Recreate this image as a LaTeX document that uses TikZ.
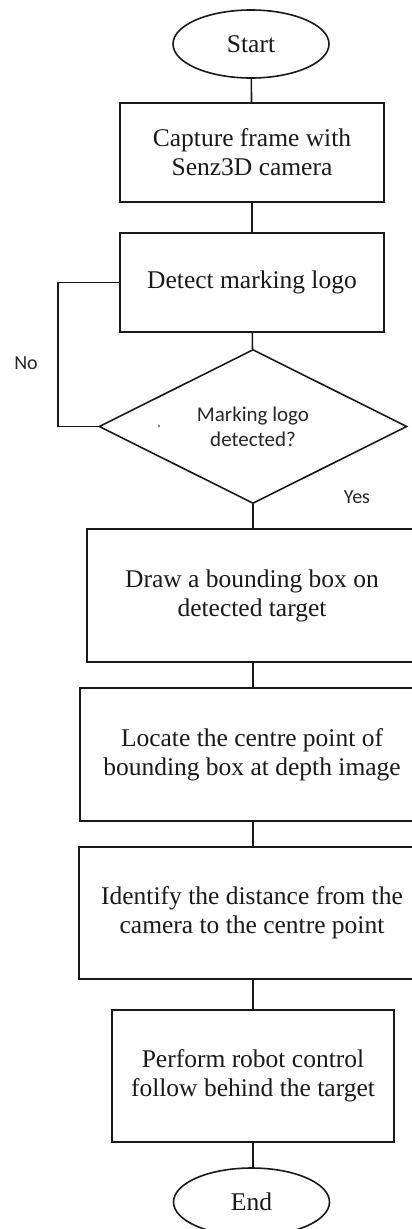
\documentclass[tikz,border=0pt]{standalone}
\usepackage{fontspec}
\setmainfont{Liberation Serif}
\newfontfamily\labelfont{Carlito}
\usetikzlibrary{shapes.geometric}

\tikzset{
  flowline/.style={draw=black!90, line width=1.6pt},
  stepbox/.style={rectangle, flowline, inner sep=0pt, align=center,
    font=\fontsize{25.5}{29}\selectfont, text=black!90},
  terminal/.style={ellipse, flowline, inner sep=0pt, minimum width=156pt,
    minimum height=68pt, font=\fontsize{25.5}{29}\selectfont, text=black!90},
  decision/.style={diamond, flowline, inner sep=0pt, aspect=2, align=center,
    minimum width=308pt, minimum height=154pt,
    font=\labelfont\fontsize{21}{25}\selectfont, text=black!85},
  branchlabel/.style={font=\labelfont\fontsize{20}{24}\selectfont, text=black!85}
}

\begin{document}
\begin{tikzpicture}[x=1pt, y=-1pt]
  \useasboundingbox (0,0) rectangle (412,1229);

  % process steps, top to bottom
  \node[terminal] (start) at (251,44) {Start};
  \node[stepbox, minimum width=264pt, minimum height=99pt] (capture) at (252,152.5)
    {Capture frame with\\Senz3D camera};
  \node[stepbox, minimum width=264pt, minimum height=99pt] (detect) at (252,282.5)
    {Detect marking logo};
  \node[decision] (found) at (253,426.5) {Marking logo\\detected?};
  \node[stepbox, minimum width=330pt, minimum height=133pt] (bbox) at (252,595.5)
    {Draw a bounding box on\\detected target};
  \node[stepbox, minimum width=344pt, minimum height=133pt] (locate) at (252,754.5)
    {Locate the centre point of\\bounding box at depth image};
  \node[stepbox, minimum width=346pt, minimum height=132pt] (distance) at (252,913)
    {Identify the distance from the\\camera to the centre point};
  \node[stepbox, minimum width=282pt, minimum height=132pt] (follow) at (253,1076)
    {Perform robot control\\follow behind the target};
  \node[terminal] (end) at (251.5,1202) {End};

  % branch labels
  \node[branchlabel] (nolabel) at (26,363) {No};
  \node[branchlabel] (yeslabel) at (357,497) {Yes};

  % small stray dot inside the decision
  \fill[fill={rgb,255:red,70;green,60;blue,190}] (159,426) circle (1.2pt);

  % connectors
  \draw[flowline] (start) -- (capture);
  \draw[flowline] (capture) -- (detect);
  \draw[flowline] (detect) -- (found);
  \draw[flowline] (found.south) -- (found.south |- bbox.north);
  \draw[flowline] (bbox.south -| follow.north) -- (locate.north -| follow.north);
  \draw[flowline] (locate.south -| follow.north) -- (distance.north -| follow.north);
  \draw[flowline] (distance.south -| follow.north) -- (follow.north);
  \draw[flowline] (follow.south) -- (follow.south |- end.north);

  % "No" loop back to detection
  \coordinate (loopcorner) at (58,282.5);
  \draw[flowline] (found.west) -| (loopcorner) -- (detect.west);
\end{tikzpicture}
\end{document}
